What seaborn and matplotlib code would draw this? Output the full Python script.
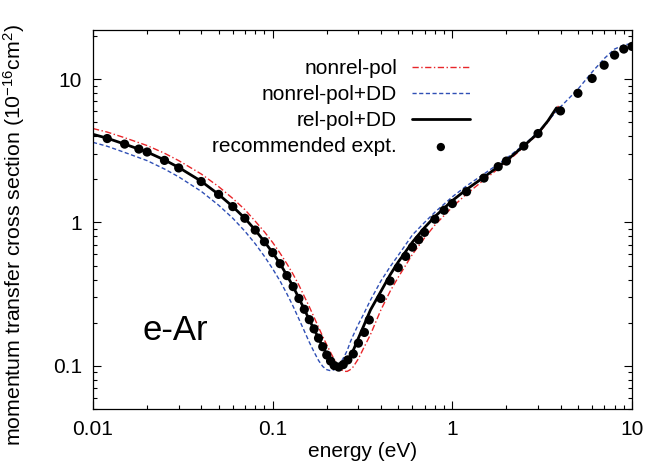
import numpy as np
import pandas as pd
import matplotlib
matplotlib.use("Agg")
import matplotlib.pyplot as plt
import seaborn as sns
from matplotlib.ticker import FixedLocator, FixedFormatter, NullFormatter

# ---------------- data ----------------
curve_energy = [0.01, 0.012, 0.015, 0.02, 0.025, 0.03, 0.04, 0.05, 0.06, 0.07, 0.08,
                0.09, 0.1, 0.11, 0.12, 0.13, 0.14, 0.15, 0.16, 0.17, 0.18, 0.19, 0.2,
                0.21, 0.22, 0.23, 0.24, 0.25, 0.26, 0.27, 0.28, 0.3, 0.32, 0.35, 0.4,
                0.45, 0.5, 0.6, 0.7, 0.8, 1.0, 1.2, 1.5, 2.0, 2.5, 3.0, 3.4]

rel_pol_dd = [4.12, 3.87, 3.52, 3.10, 2.73, 2.42, 1.94, 1.57, 1.29, 1.07, 0.885,
              0.735, 0.615, 0.515, 0.428, 0.357, 0.296, 0.248, 0.209, 0.180, 0.156, 0.136, 0.120,
              0.109, 0.1015, 0.0975, 0.0975, 0.101, 0.108, 0.117, 0.127, 0.156, 0.188, 0.245, 0.330,
              0.43, 0.53, 0.73, 0.92, 1.10, 1.42, 1.70, 2.07, 2.70, 3.42, 4.20, 5.1]
rel_end_energy = [3.8]
rel_end_value = [6.3]

nonrel_pol = [4.52, 4.27, 3.90, 3.44, 3.04, 2.70, 2.18, 1.78, 1.47, 1.23, 1.02,
              0.86, 0.725, 0.61, 0.515, 0.435, 0.365, 0.305, 0.258, 0.218, 0.186, 0.160, 0.140,
              0.124, 0.111, 0.101, 0.0945, 0.0915, 0.0915, 0.094, 0.098, 0.112, 0.132, 0.165, 0.245,
              0.33, 0.415, 0.60, 0.78, 0.96, 1.28, 1.58, 1.98, 2.62, 3.36, 4.15, 5.0]
nonrel_end_energy = [3.9]
nonrel_end_value = [6.5]

nonrel_pol_dd = [3.62, 3.40, 3.08, 2.70, 2.36, 2.08, 1.65, 1.32, 1.07, 0.87, 0.71,
                 0.58, 0.475, 0.39, 0.318, 0.26, 0.212, 0.175, 0.146, 0.125, 0.109, 0.099, 0.094,
                 0.0925, 0.094, 0.099, 0.106, 0.116, 0.128, 0.146, 0.162, 0.195, 0.228, 0.287, 0.39,
                 0.49, 0.59, 0.82, 1.0, 1.18, 1.51, 1.80, 2.18, 2.80, 3.48, 4.25, 5.1]
dd_ext_energy = [4.0, 5.0, 6.0, 7.0, 8.0, 9.0, 10.0]
dd_ext_value = [6.4, 8.5, 11.2, 13.9, 16.2, 17.3, 17.7]

expt_energy = [0.012, 0.015, 0.018, 0.02, 0.025, 0.03, 0.04, 0.05, 0.06, 0.07, 0.08, 0.09,
               0.1, 0.11, 0.12, 0.13, 0.14, 0.15, 0.16, 0.17, 0.18, 0.19, 0.2, 0.21, 0.22,
               0.233, 0.247, 0.262, 0.281, 0.3, 0.324, 0.345, 0.4, 0.45, 0.5, 0.55, 0.6, 0.65,
               0.7, 0.8, 0.9, 1.0, 1.2, 1.5, 1.8, 2.0, 2.5, 3.0, 4.0, 5.0, 6.0, 7.0, 8.0, 9.0, 10.0]
expt_value = [3.85, 3.52, 3.25, 3.10, 2.71, 2.40, 1.93, 1.57, 1.29, 1.07, 0.885, 0.734,
              0.616, 0.516, 0.426, 0.357, 0.295, 0.248, 0.210, 0.181, 0.156, 0.136, 0.119, 0.108,
              0.1005, 0.098, 0.102, 0.110, 0.121, 0.144, 0.171, 0.209, 0.295, 0.391, 0.484, 0.58,
              0.673, 0.758, 0.853, 1.054, 1.216, 1.355, 1.64, 2.04, 2.45, 2.68, 3.41, 4.17, 6.0,
              7.96, 10.1, 12.5, 14.7, 16.2, 16.9]

labels = ["nonrel-pol", "nonrel-pol+DD", "rel-pol+DD", "recommended expt."]
x_ticks = [0.01, 0.1, 1, 10]
x_ticklabels = ["0.01", "0.1", "1", "10"]
y_ticks = [0.1, 1, 10]
y_ticklabels = ["0.1", "1", "10"]

# ---------------- style ----------------
sns.set_style("ticks")
plt.rcParams['font.family'] = ['Liberation Sans', 'DejaVu Sans']
plt.rcParams['mathtext.fontset'] = 'custom'
plt.rcParams['mathtext.rm'] = 'Liberation Sans'
plt.rcParams['mathtext.it'] = 'Liberation Sans:italic'
plt.rcParams['mathtext.bf'] = 'Liberation Sans:bold'
for key in ['text.color', 'axes.labelcolor', 'xtick.color', 'ytick.color', 'axes.edgecolor']:
    plt.rcParams[key] = 'black'

FS = 15
DPI = 100

fig = plt.figure(figsize=(6.6, 4.68), dpi=DPI)
ax = fig.add_axes([93 / 660, 1 - 409 / 468, (632 - 93) / 660, (409 - 30) / 468])

red_df = pd.DataFrame({"E": curve_energy + nonrel_end_energy,
                       "s": nonrel_pol + nonrel_end_value})
blue_df = pd.DataFrame({"E": curve_energy + dd_ext_energy,
                        "s": nonrel_pol_dd + dd_ext_value})
black_df = pd.DataFrame({"E": curve_energy + rel_end_energy,
                         "s": rel_pol_dd + rel_end_value})
expt_df = pd.DataFrame({"E": expt_energy, "s": expt_value})

sns.lineplot(data=red_df, x="E", y="s", ax=ax, color="#e8262a", lw=1.0,
             estimator=None, sort=False, label=labels[0])
sns.lineplot(data=blue_df, x="E", y="s", ax=ax, color="#2f4fb5", lw=1.0,
             estimator=None, sort=False, label=labels[1])
sns.lineplot(data=black_df, x="E", y="s", ax=ax, color="black", lw=2.0,
             estimator=None, sort=False, label=labels[2])
sns.scatterplot(data=expt_df, x="E", y="s", ax=ax, color="black", s=44,
                edgecolor="none", label=labels[3], zorder=5)

lines = ax.get_lines()
lines[0].set_dashes([4.5, 1.8, 1.0, 1.8])
lines[1].set_dashes([3.0, 1.8])

ax.set_xscale("log")
ax.set_yscale("log")
ax.set_xlim(0.01, 10)
ax.set_ylim(0.05, 22)

ax.xaxis.set_major_locator(FixedLocator(x_ticks))
ax.xaxis.set_major_formatter(FixedFormatter(x_ticklabels))
xminor = [m * d for d in [0.01, 0.1, 1] for m in range(2, 10)]
ax.xaxis.set_minor_locator(FixedLocator(xminor))
ax.xaxis.set_minor_formatter(NullFormatter())
ax.yaxis.set_major_locator(FixedLocator(y_ticks))
ax.yaxis.set_major_formatter(FixedFormatter(y_ticklabels))
yminor = [m * d for d in [0.01, 0.1, 1, 10] for m in range(2, 10)]
yminor = [v for v in yminor if 0.05 <= v <= 22]
ax.yaxis.set_minor_locator(FixedLocator(yminor))
ax.yaxis.set_minor_formatter(NullFormatter())

ax.tick_params(which="both", direction="in", top=True, right=True,
               width=0.8, colors="black", labelsize=FS)
ax.tick_params(which="major", length=5.5, pad=8)
ax.tick_params(which="minor", length=3)
for sp in ax.spines.values():
    sp.set_visible(True)
    sp.set_linewidth(0.9)
    sp.set_color("black")

ax.set_xlabel("energy (eV)", fontsize=FS, labelpad=2)
ax.set_ylabel("momentum transfer cross section (10$^{-16}$cm$^{2}$)", fontsize=FS + 0.3)
ax.yaxis.set_label_coords(-0.122, 0.46)

ax.text(0.092, 0.182, "e-Ar", transform=ax.transAxes, fontsize=25, ha="left", va="baseline")

handles, labs = ax.get_legend_handles_labels()


def make_legend(spacing, anchor):
    return ax.legend(handles, labs, loc="upper right", bbox_to_anchor=anchor,
                     frameon=False, markerfirst=False, fontsize=FS, handlelength=2.8,
                     handletextpad=0.7, labelspacing=spacing, borderpad=0,
                     borderaxespad=0, markerscale=0.9)


# place legend rows at the reference pixel rows (first row y=69, row step 26 px,
# handle right end x=470), measured after a draw
spacing = 0.12
anchor = (0.70, 0.93)
fs_px = FS * DPI / 72.0
H = 468
for _ in range(3):
    leg = make_legend(spacing, anchor)
    fig.canvas.draw()
    r = fig.canvas.get_renderer()
    tb = [t.get_window_extent(r) for t in leg.get_texts()]
    c0 = H - (tb[0].y0 + tb[0].y1) / 2
    c3 = H - (tb[3].y0 + tb[3].y1) / 2
    step = (c3 - c0) / 3
    spacing += (26.0 - step) / fs_px
    lb = leg.get_window_extent(r)
    dx = 470 - lb.x1
    dy = 69 - c0
    axw = (632 - 93)
    axh = (409 - 30)
    anchor = (anchor[0] + dx / axw, anchor[1] - dy / axh)
leg = make_legend(spacing, anchor)

fig.savefig("out.png", dpi=DPI)
